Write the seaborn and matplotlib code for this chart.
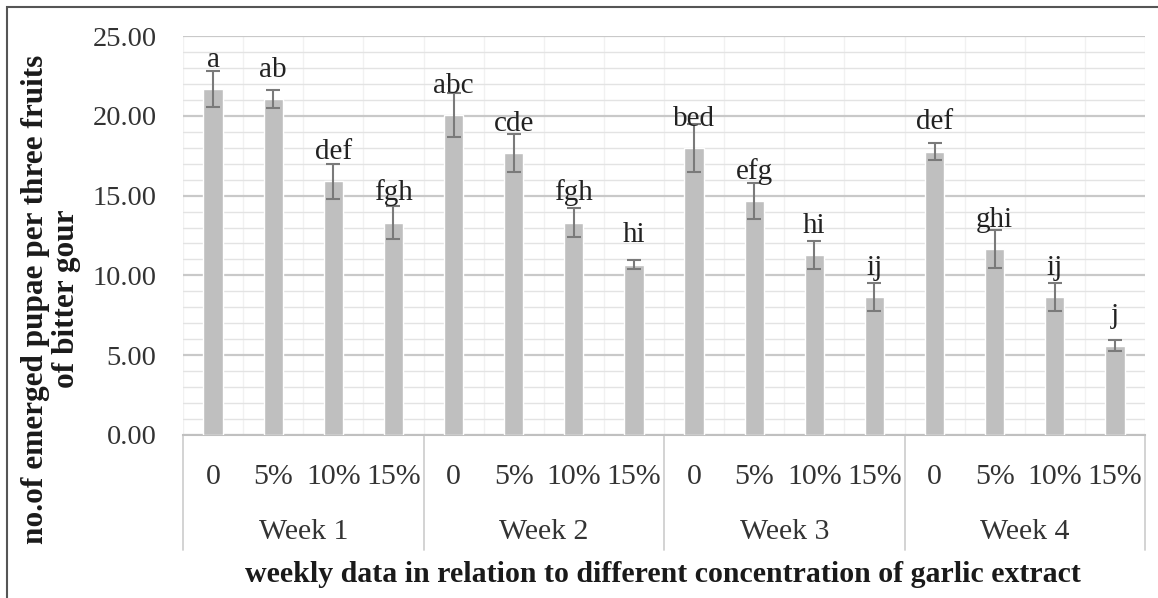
import matplotlib
matplotlib.use("Agg")
import matplotlib.pyplot as plt
import matplotlib.transforms as mtrans
from matplotlib.patches import Rectangle
import seaborn as sns
import pandas as pd
import numpy as np

weeks = ["Week 1", "Week 2", "Week 3", "Week 4"]
concs = ["0", "5%", "10%", "15%"]
means = [21.68, 21.05, 15.9, 13.3,
         20.05, 17.67, 13.3, 10.67,
         17.98, 14.66, 11.28, 8.65,
         17.75, 11.65, 8.65, 5.6]
errs = [1.1, 0.55, 1.1, 1.05,
        1.4, 1.2, 0.9, 0.3,
        1.5, 1.15, 0.85, 0.9,
        0.55, 1.2, 0.9, 0.35]
letters = ["a", "ab", "def", "fgh",
           "abc", "cde", "fgh", "hi",
           "bed", "efg", "hi", "ij",
           "def", "ghi", "ij", "j"]

df = pd.DataFrame({
    "week": np.repeat(weeks, len(concs)),
    "conc": concs * len(weeks),
    "mean": means,
    "se": errs,
    "letter": letters,
})
df["key"] = df["week"] + " " + df["conc"]

sns.set_style("white")
plt.rcParams["font.family"] = ["Liberation Serif", "DejaVu Serif"]

fig = plt.figure(figsize=(11.58, 5.98), dpi=100)
ax = fig.add_axes([183 / 1158, 163 / 598, 962 / 1158, 399 / 598])

sns.barplot(data=df, x="key", y="mean", order=list(df["key"]), color="#bfbfbf",
            saturation=1, width=0.32, errorbar=None, ax=ax, zorder=3)
xs = np.arange(len(df))
ax.errorbar(xs, df["mean"], yerr=df["se"], fmt="none", ecolor="#7a7a7a",
            elinewidth=1.5, capsize=5, capthick=1.5, zorder=4)

for x, v, t in zip(xs, df["mean"], df["letter"]):
    ax.text(x, v + 1.4, t, ha="center", va="baseline", fontsize=21,
            color="#222222", zorder=5)

ax.set_ylim(0, 25)
ax.set_xlim(-0.5, len(df) - 0.5)
ax.set_yticks(np.arange(0, 26, 5))
ax.set_yticklabels([f"{v:.2f}" for v in np.arange(0, 26, 5)])
ax.set_yticks(np.arange(0, 26, 1), minor=True)
ax.tick_params(axis="y", which="both", length=0, pad=19, labelsize=20.5,
               labelcolor="#333333")
ax.grid(axis="y", which="major", color="#c9c9c9", lw=1.6, zorder=0)
ax.grid(axis="y", which="minor", color="#e3e3e3", lw=1.0, zorder=0)
for b in np.arange(-0.5, len(df), 1):
    ax.axvline(b, color="#f1f1f1", lw=1.0, zorder=0)

ax.set_xticks([])
ax.set_xlabel("")
ax.set_ylabel("")
for s in ["top", "right", "left"]:
    ax.spines[s].set_visible(False)
ax.spines["bottom"].set_color("#c0c0c0")
ax.spines["bottom"].set_linewidth(1.5)

trans = mtrans.blended_transform_factory(ax.transData, ax.transAxes)
for x, c in zip(xs, df["conc"]):
    ax.text(x, -0.105, c, transform=trans, ha="center", va="center",
            fontsize=21.5, color="#333333")
for i, w in enumerate(weeks):
    ax.text(i * len(concs) + (len(concs) - 1) / 2, -0.243, w, transform=trans,
            ha="center", va="center", fontsize=21.5, color="#333333")
for i in range(len(weeks) + 1):
    ax.plot([i * len(concs) - 0.5] * 2, [0, -0.288], transform=trans,
            color="#d0d0d0", lw=1.3, clip_on=False)

fig.text(663 / 1158, 1 - 574 / 598, "weekly data in relation to different concentration of garlic extract",
         ha="center", va="center", fontsize=21.5, fontweight="bold", color="#1a1a1a")
fig.text(51 / 1158, 1 - 299 / 598, "no.of emerged pupae per three fruits\nof bitter gour",
         ha="center", va="center", rotation=90, multialignment="center",
         fontsize=22.5, fontweight="bold", color="#1a1a1a", linespacing=1.05)

fig.patches.append(Rectangle((7 / 1158, -0.1), 1.2, 1 - 7 / 598 + 0.1,
                             transform=fig.transFigure, fill=False,
                             edgecolor="#555555", lw=1.5))

fig.savefig("out.png", dpi=100)
